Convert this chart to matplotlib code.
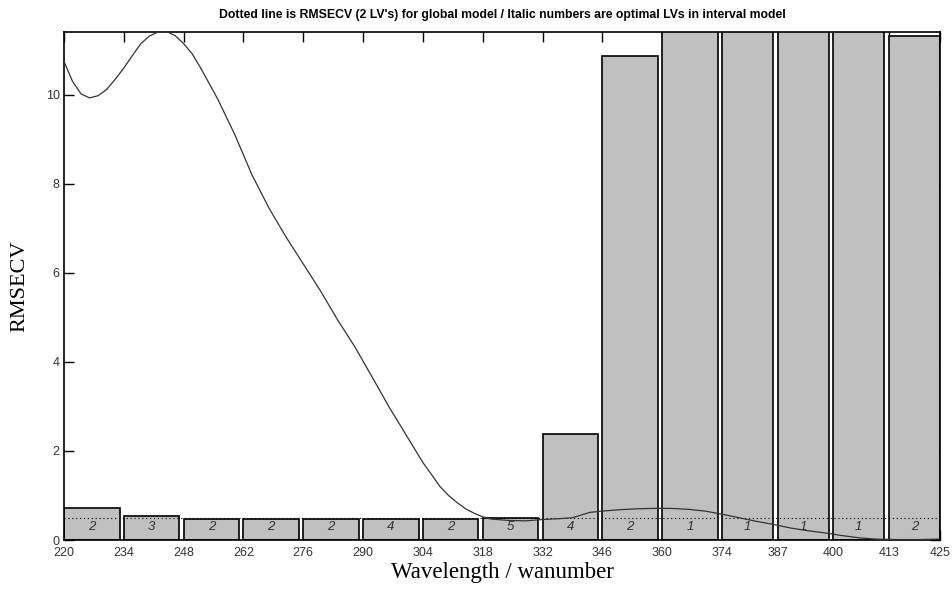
import matplotlib
matplotlib.use("Agg")
import matplotlib.pyplot as plt

# interval borders (wavelength) and results per interval
edges = [220, 234, 248, 262, 276, 290, 304, 318, 332, 346, 360, 374, 387, 400, 413, 425]
rmsecv = [0.73, 0.55, 0.48, 0.48, 0.47, 0.48, 0.47, 0.50, 2.37, 10.87,
          11.45, 11.45, 11.45, 11.5, 11.32]
opt_lv = [2, 3, 2, 2, 2, 4, 2, 5, 4, 2, 1, 1, 1, 1, 2]
global_rmsecv = 0.49

# mean spectrum drawn over the bars (scaled)
spec_x = [220, 222, 224, 226, 228, 230, 232, 234, 236, 238, 240, 242, 244, 246,
          248, 250, 252, 254, 256, 258, 260, 264, 268, 272, 276, 280, 284, 288,
          292, 296, 300, 304, 308, 310, 312, 314, 316, 318, 320, 324, 328, 332,
          336, 339, 341, 343, 346, 350, 354, 358, 362, 366, 370, 374, 378, 382,
          386, 390, 394, 398, 402, 406, 410, 415, 420, 425]
spec_y = [10.75, 10.3, 10.02, 9.93, 9.98, 10.12, 10.35, 10.6, 10.88, 11.15,
          11.32, 11.41, 11.42, 11.33, 11.15, 10.92, 10.6, 10.25, 9.9, 9.5, 9.1,
          8.2, 7.45, 6.8, 6.2, 5.6, 4.95, 4.35, 3.68, 3.0, 2.37, 1.74, 1.2,
          1.0, 0.84, 0.7, 0.6, 0.52, 0.47, 0.44, 0.43, 0.46, 0.48, 0.5, 0.56,
          0.62, 0.65, 0.68, 0.70, 0.71, 0.71, 0.69, 0.65, 0.58, 0.50, 0.42, 0.35,
          0.27, 0.21, 0.16, 0.10, 0.05, 0.02, 0.01, 0.01, 0.02]

fig = plt.figure(figsize=(9.52, 5.94), dpi=100)
ax = fig.add_axes([0.0672, 0.0909, 0.9202, 0.8552])

for i in range(len(rmsecv)):
    left = edges[i]
    right = edges[i + 1] - 1 if i < len(rmsecv) - 1 else edges[i + 1]
    ax.bar(left, rmsecv[i], width=right - left, align="edge",
           color="#c0c0c0", edgecolor="black", linewidth=1.2, zorder=2)
    ax.text((left + right) / 2, 0.3, str(opt_lv[i]), ha="center", va="center",
            style="italic", fontsize=9.5, color="#333333",
            family="Liberation Sans", zorder=4)

ax.plot([edges[0], edges[-1]], [global_rmsecv, global_rmsecv], color="black",
        linestyle=(0, (1, 2.5)), linewidth=0.8, zorder=3)
ax.plot(spec_x, spec_y, color="#333333", linewidth=0.9, zorder=5)

ax.set_xlim(220, 425)
ax.set_ylim(0, 11.41)
ax.set_xticks(edges)
ax.set_xticklabels([str(e) for e in edges])
ax.set_yticks([0, 2, 4, 6, 8, 10])
ax.tick_params(direction="in", top=True, right=True, length=7, width=1,
               labelsize=9, colors="black")
ax.tick_params(axis="x", pad=5)
ax.tick_params(axis="y", pad=3)
for lab in ax.get_xticklabels() + ax.get_yticklabels():
    lab.set_family("Liberation Sans")
    lab.set_color("#333333")
for s in ax.spines.values():
    s.set_linewidth(1.2)

ax.set_title("Dotted line is RMSECV (2 LV's) for global model / Italic numbers are optimal LVs in interval model",
             fontsize=8.85, fontweight="bold", family="Liberation Sans", pad=10)
ax.set_ylabel("RMSECV", fontsize=16, family="Liberation Serif", labelpad=12)
ax.set_xlabel("Wavelength / wanumber", fontsize=16.5, family="Liberation Serif", labelpad=2)

fig.savefig("out.png", dpi=100)
